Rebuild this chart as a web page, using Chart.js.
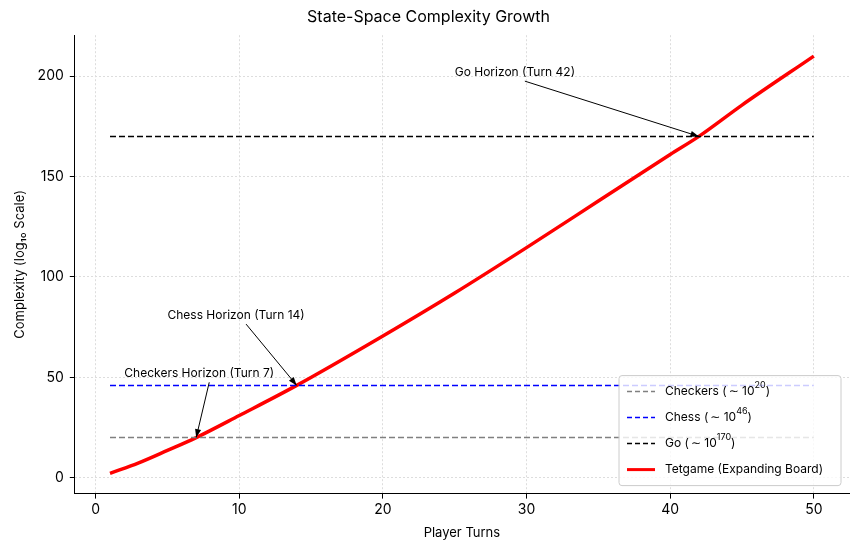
<!DOCTYPE html>
<html><head><meta charset="utf-8">
<script src="https://cdn.jsdelivr.net/npm/chart.js@4"></script>
<style>body{margin:0;background:#fff}#wrap{width:859px;height:549px}</style>
</head><body><div id="wrap"><canvas id="c"></canvas></div>
<script>
// data
const turns = [1, 3, 5, 7, 10, 14, 20, 25, 30, 35, 40, 42, 45, 50];
const tetgame = [2.2, 7.4, 13.6, 20, 31, 46, 70.6, 92, 114.6, 137.8, 161, 170, 185.6, 210];
const lineX = [1, 50];
const checkers = 20, chess = 46, go = 170;
const notes = [
  {text: "Checkers Horizon (Turn 7)", tx: 2, ty: 52, ax: 7, ay: 20},
  {text: "Chess Horizon (Turn 14)", tx: 5, ty: 81, ax: 14, ay: 46},
  {text: "Go Horizon (Turn 42)", tx: 25, ty: 202, ax: 42, ay: 170}
];
const legendItems = [
  {base: "Checkers (", sup: "20", color: "#808080", dash: true},
  {base: "Chess (", sup: "46", color: "#0000ff", dash: true},
  {base: "Go (", sup: "170", color: "#000000", dash: true},
  {base: "Tetgame (Expanding Board)", sup: null, color: "#ff0000", dash: false}
];
const FONT = "Inter, 'DejaVu Sans', sans-serif";

const flat = v => lineX.map(x => ({x: x, y: v}));

const extras = {
  id: "extras",
  afterDatasetsDraw(chart) {
    const ctx = chart.ctx, xs = chart.scales.x, ys = chart.scales.y;
    ctx.save();
    ctx.font = "12px " + FONT;
    ctx.fillStyle = "#000"; ctx.strokeStyle = "#000"; ctx.lineWidth = 1;
    notes.forEach(n => {
      const tx = xs.getPixelForValue(n.tx), ty = ys.getPixelForValue(n.ty);
      const ax = xs.getPixelForValue(n.ax), ay = ys.getPixelForValue(n.ay);
      ctx.textAlign = "left"; ctx.textBaseline = "middle";
      ctx.fillText(n.text, tx, ty);
      const w = ctx.measureText(n.text).width;
      const sx = tx + w / 2 + 10, sy = ty + 9;
      ctx.beginPath(); ctx.moveTo(sx, sy); ctx.lineTo(ax, ay); ctx.stroke();
      const ang = Math.atan2(ay - sy, ax - sx);
      ctx.beginPath();
      ctx.moveTo(ax, ay);
      ctx.lineTo(ax - 9 * Math.cos(ang - 0.35), ay - 9 * Math.sin(ang - 0.35));
      ctx.lineTo(ax - 9 * Math.cos(ang + 0.35), ay - 9 * Math.sin(ang + 0.35));
      ctx.closePath(); ctx.fill();
    });
    // legend box
    const a = chart.chartArea;
    const bw = 222, bh = 110, bx = a.right - bw - 8, by = a.bottom - bh - 8;
    ctx.fillStyle = "rgba(255,255,255,0.8)"; ctx.strokeStyle = "#ccc";
    ctx.beginPath(); ctx.roundRect(bx, by, bw, bh, 3); ctx.fill(); ctx.stroke();
    legendItems.forEach((it, i) => {
      const y = by + 16 + i * 26;
      ctx.strokeStyle = it.color; ctx.lineWidth = it.dash ? 1.5 : 3;
      ctx.setLineDash(it.dash ? [5, 3] : []);
      ctx.beginPath(); ctx.moveTo(bx + 8, y); ctx.lineTo(bx + 36, y); ctx.stroke();
      ctx.setLineDash([]);
      ctx.fillStyle = "#000"; ctx.textAlign = "left"; ctx.textBaseline = "middle";
      ctx.font = "12px " + FONT;
      let x = bx + 46;
      ctx.fillText(it.base, x, y); x += ctx.measureText(it.base).width;
      if (it.sup) {
        ctx.fillText("\u223c 10", x + 2, y); x += ctx.measureText("\u223c 10").width + 2;
        ctx.font = "9px " + FONT; ctx.fillText(it.sup, x, y - 6); x += ctx.measureText(it.sup).width;
        ctx.font = "12px " + FONT; ctx.fillText(")", x, y);
      }
    });
    ctx.restore();
  }
};

new Chart(document.getElementById("c"), {
  type: "line",
  data: {
    datasets: [
      {label: "Checkers", data: flat(checkers), borderColor: "#808080", borderWidth: 1.5, borderDash: [6, 3], pointRadius: 0},
      {label: "Chess", data: flat(chess), borderColor: "#0000ff", borderWidth: 1.5, borderDash: [6, 3], pointRadius: 0},
      {label: "Go", data: flat(go), borderColor: "#000000", borderWidth: 1.5, borderDash: [6, 3], pointRadius: 0},
      {label: "Tetgame", data: turns.map((t, i) => ({x: t, y: tetgame[i]})), borderColor: "#ff0000", borderWidth: 3.5, pointRadius: 0, cubicInterpolationMode: "monotone"}
    ]
  },
  options: {
    responsive: true, maintainAspectRatio: false, animation: false,
    layout: {padding: {left: 8, right: 10, top: 4, bottom: 4}},
    plugins: {
      legend: {display: false}, tooltip: {enabled: false},
      title: {display: true, text: "State-Space Complexity Growth", color: "#000", font: {family: FONT, size: 16, weight: "normal"}, padding: {top: 4, bottom: 8}}
    },
    scales: {
      x: {type: "linear", min: -1.45, max: 52.45,
        afterBuildTicks: s => { s.ticks = [0, 10, 20, 30, 40, 50].map(v => ({value: v})); },
        grid: {color: "#dddddd", tickColor: "#000", tickLength: 5},
        border: {color: "#000", dash: [2, 2]},
        ticks: {color: "#000", font: {family: FONT, size: 14}},
        title: {display: true, text: "Player Turns", color: "#000", font: {family: FONT, size: 13}}},
      y: {min: -7.9, max: 220.4,
        afterBuildTicks: s => { s.ticks = [0, 50, 100, 150, 200].map(v => ({value: v})); },
        grid: {color: "#dddddd", tickColor: "#000", tickLength: 5},
        border: {color: "#000", dash: [2, 2]},
        ticks: {color: "#000", font: {family: FONT, size: 14}, padding: 6},
        title: {display: true, text: "Complexity (log\u2081\u2080 Scale)", color: "#000", font: {family: FONT, size: 13}}}
    }
  },
  plugins: [extras]
});
</script></body></html>
